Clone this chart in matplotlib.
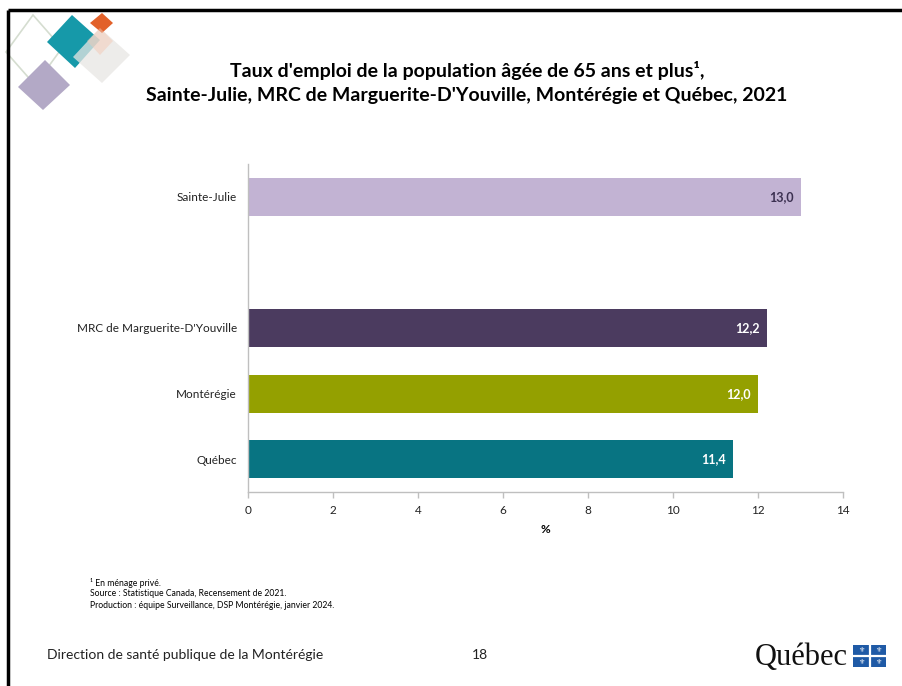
import matplotlib
matplotlib.use("Agg")
import matplotlib.pyplot as plt
from matplotlib.patches import Polygon, Rectangle

plt.rcParams['font.family'] = ['Lato', 'DejaVu Sans']

categories = ["Québec", "Montérégie", "MRC de Marguerite-D'Youville", "", "Sainte-Julie"]
values = [11.4, 12.0, 12.2, None, 13.0]
colors = ["#087482", "#94A000", "#4B3B5F", "#FFFFFF", "#C2B3D3"]
label_colors = ["white", "white", "white", "white", "#3B3050"]
value_labels = ["11,4", "12,0", "12,2", "", "13,0"]
xticks = [0, 2, 4, 6, 8, 10, 12, 14]

W, H = 902, 686
fig = plt.figure(figsize=(W / 100, H / 100), dpi=100)

# background overlay for slide decorations
bg = fig.add_axes([0, 0, 1, 1])
bg.set_xlim(0, W)
bg.set_ylim(H, 0)
bg.axis('off')

# frame lines (top and left)
bg.plot([8, W + 5], [9.5, 9.5], color='black', lw=2.5, solid_capstyle='butt')
bg.plot([8, 8], [9.5, H + 5], color='black', lw=2.5, solid_capstyle='butt')

def diamond(pts, **kw):
    bg.add_patch(Polygon(pts, closed=True, **kw))

diamond([(33, 15), (62, 48), (35, 85), (6, 52)], fill=False, edgecolor='#D5DDD0', lw=1.2)
diamond([(45, 60), (70, 85), (43, 110), (18, 87)], facecolor='#B3A9C6', edgecolor='none')
diamond([(72, 15), (100, 40), (75, 68), (47, 42)], facecolor='#1699A9', edgecolor='none')
diamond([(100, 28), (130, 55), (102, 83), (73, 57)], facecolor='#E8E6E3', edgecolor='none', alpha=0.75)
diamond([(102, 13), (113, 23), (102, 33), (90, 23)], facecolor='#E2612A', edgecolor='none')
diamond([(100, 28), (113, 41), (100, 55), (87, 41)], facecolor='#F3C9B6', edgecolor='none', alpha=0.5)

# title
bg.text(467, 71, "Taux d'emploi de la population âgée de 65 ans et plus¹,",
        ha='center', va='center', fontsize=14, fontweight='bold', color='black')
bg.text(467, 96, "Sainte-Julie, MRC de Marguerite-D'Youville, Montérégie et Québec, 2021",
        ha='center', va='center', fontsize=14, fontweight='bold', color='black')

# footnotes
notes = ["¹ En ménage privé.",
         "Source : Statistique Canada, Recensement de 2021.",
         "Production : équipe Surveillance, DSP Montérégie, janvier 2024."]
for i, t in enumerate(notes):
    bg.text(90, 583 + 11 * i, t, ha='left', va='center', fontsize=6.2, color='black')

bg.text(47, 655, "Direction de santé publique de la Montérégie", ha='left', va='center',
        fontsize=10, color='#222222')
bg.text(480, 655, "18", ha='center', va='center', fontsize=10, color='#222222')

# Québec logo
bg.text(755, 657, "Québec", ha='left', va='center', fontsize=22,
        family='Liberation Serif', color='#111111')
flag_x, flag_y = 853, 645
bg.add_patch(Rectangle((flag_x, flag_y), 33, 22, facecolor='#1F5AA6', edgecolor='none'))
bg.plot([flag_x + 16.5, flag_x + 16.5], [flag_y, flag_y + 22], color='white', lw=1.6)
bg.plot([flag_x, flag_x + 33], [flag_y + 11, flag_y + 11], color='white', lw=1.6)
for dx in (8.2, 24.8):
    for dy in (5.5, 16.5):
        bg.text(flag_x + dx, flag_y + dy, "⚜", ha='center', va='center', fontsize=5,
                color='white', family='DejaVu Sans')

# main chart
left, right = 248 / W, 843 / W
bottom, top = (H - 492) / H, (H - 164) / H
ax = fig.add_axes([left, bottom, right - left, top - bottom])
pos = list(range(len(categories)))
for p, v, c in zip(pos, values, colors):
    if v is not None:
        ax.barh(p, v, height=0.58, color=c, edgecolor='none')
for p, v, lab, lc in zip(pos, values, value_labels, label_colors):
    if v is not None:
        ax.text(v - 0.16, p, lab, ha='right', va='center', fontsize=9,
                fontweight='bold', color=lc)

ax.set_xlim(0, 14)
ax.set_ylim(-0.5, 4.5)
ax.set_xticks(xticks)
ax.set_xticklabels([str(t) for t in xticks], fontsize=8.5, color='#222222')
ax.set_yticks(pos)
ax.set_yticklabels(categories, fontsize=8.5, color='#222222')
ax.tick_params(axis='y', length=0, pad=8)
ax.tick_params(axis='x', length=4, color='#BFBFBF', width=1, pad=5)
for s in ('top', 'right'):
    ax.spines[s].set_visible(False)
for s in ('left', 'bottom'):
    ax.spines[s].set_color('#BFBFBF')
    ax.spines[s].set_linewidth(1)
ax.set_xlabel('%', fontsize=8.5, fontweight='bold', labelpad=6)
ax.patch.set_alpha(0)

fig.savefig('out.png', dpi=100)
